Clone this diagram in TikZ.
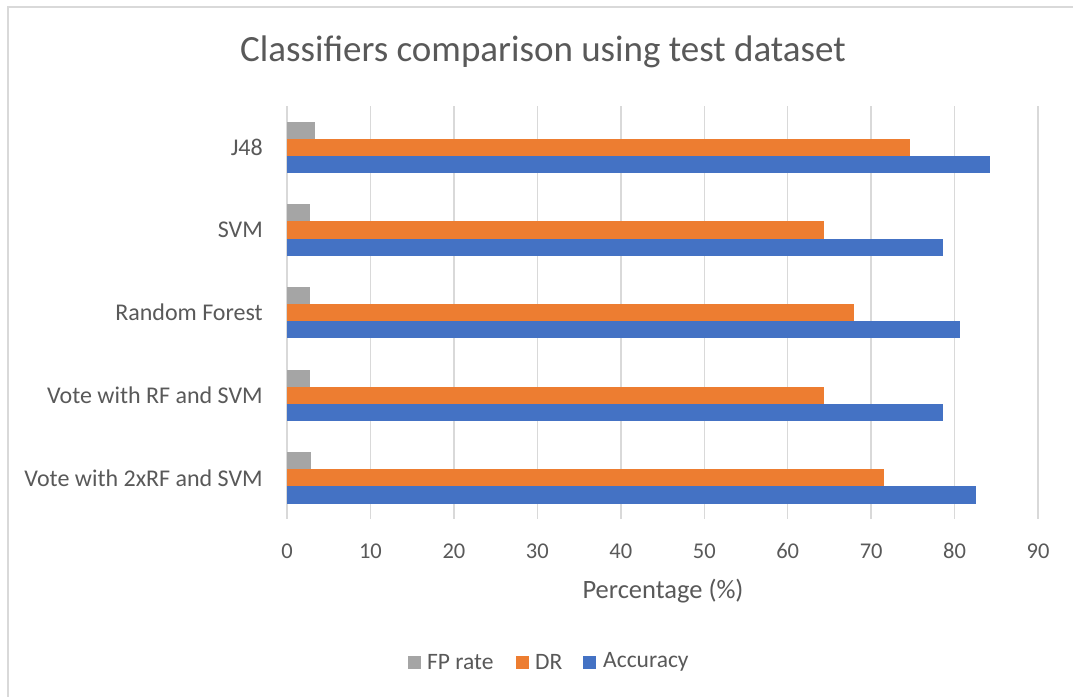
\documentclass[tikz,border=0pt]{standalone}
\usepackage{fontspec}
\setmainfont{Carlito}
\definecolor{txt}{HTML}{595959}
\definecolor{grid}{HTML}{D9D9D9}
\definecolor{accblue}{HTML}{4472C4}
\definecolor{drorange}{HTML}{ED7D31}
\definecolor{fpgrey}{HTML}{A5A5A5}
\begin{document}
\begin{tikzpicture}[x=1pt,y=-1pt,
  lbl/.style={text=txt,inner sep=0pt},
  catlbl/.style={lbl,anchor=east,font=\fontsize{24}{28}\selectfont},
  ticklbl/.style={lbl,anchor=center,font=\fontsize{22.5}{26}\selectfont},
  leglbl/.style={lbl,anchor=west,font=\fontsize{23.5}{27}\selectfont},
  gridline/.style={draw=grid,line width=1.5pt},
  bar/.style={draw=none}]
\useasboundingbox (0,0) rectangle (1073,696);
\fill[white] (0,0) rectangle (1073,696);
% chart frame
\draw[grid,line width=1.2pt] (8,7) rectangle (1090,710);
% title
\node[lbl,font=\fontsize{37}{42}\selectfont] (title) at (543,52) {Classifiers comparison using test dataset};
% vertical gridlines and tick labels (0..90)
\foreach \v [count=\k] in {0,10,...,90}{
  \draw[gridline] ({287+\v*8.345},106) -- ({287+\v*8.345},519.3);
  \node[ticklbl] (tick\k) at ({287+\v*8.345},551) {\v};
}
% bars: FP rate, DR, Accuracy per classifier (top to bottom)
\foreach \name/\fp/\dr/\acc [count=\i from 0] in
  {J48/3.3/74.6/84.2, SVM/2.8/64.4/78.6, Random Forest/2.8/67.9/80.6,
   Vote with RF and SVM/2.7/64.4/78.6, Vote with 2xRF and SVM/2.9/71.5/82.6}{
  \pgfmathsetmacro{\yc}{147.3+\i*82.66}
  \fill[fpgrey]   (287,{\yc-25.6}) rectangle ({287+\fp*8.345},{\yc-8.55});
  \fill[drorange] (287,{\yc-8.55}) rectangle ({287+\dr*8.345},{\yc+8.55});
  \fill[accblue]  (287,{\yc+8.55}) rectangle ({287+\acc*8.345},{\yc+25.6});
  \node[catlbl] (cat\i) at (263,\yc) {\name};
}
% axis title
\node[lbl,font=\fontsize{26.5}{30}\selectfont] (xtitle) at (663,591) {Percentage (\%)};
% legend
\fill[fpgrey]   (407.5,655.5) rectangle (420.5,668.5);
\node[leglbl] (legfp) at (427,662) {FP rate};
\fill[drorange] (515.5,655.5) rectangle (528.5,668.5);
\node[leglbl] (legdr) at (535,662) {DR};
\fill[accblue]  (583,655.5) rectangle (596,668.5);
\node[leglbl] (legacc) at (603,662) {Accuracy};
\end{tikzpicture}
\end{document}
